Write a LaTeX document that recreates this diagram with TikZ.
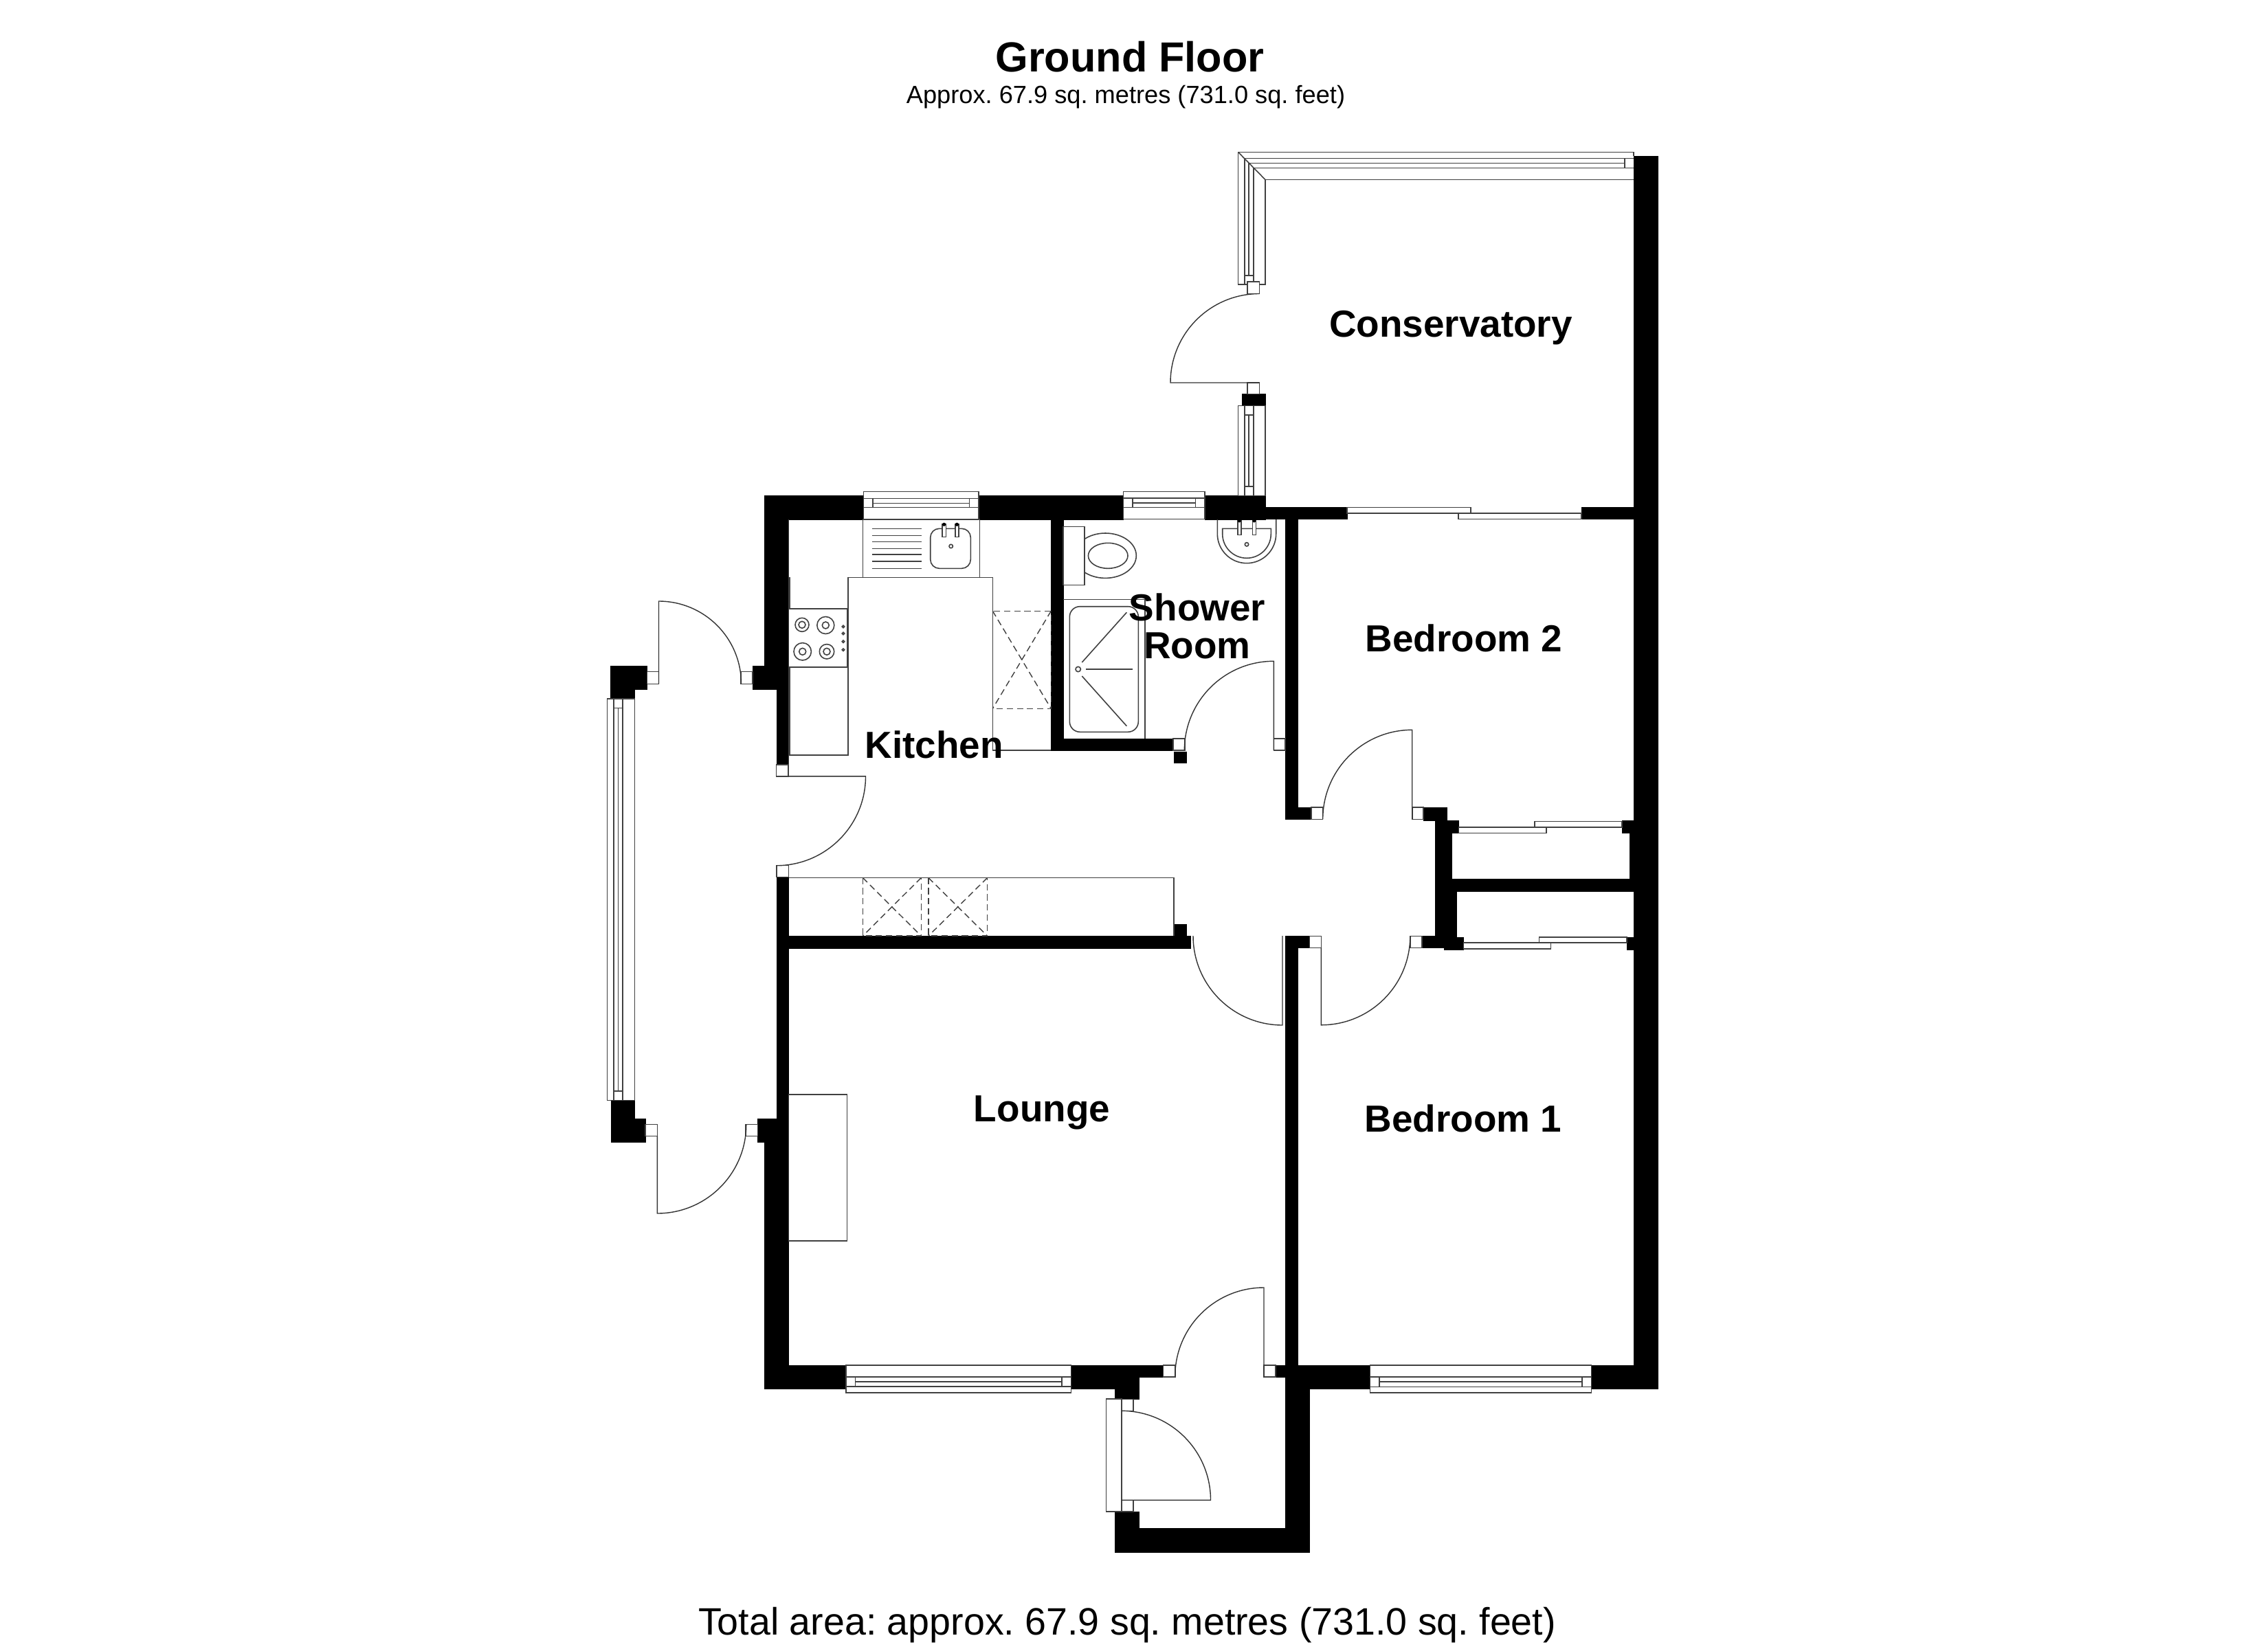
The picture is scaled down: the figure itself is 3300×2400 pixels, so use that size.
\documentclass[tikz,border=0pt]{standalone}
\usepackage{fontspec}
\setmainfont{Liberation Sans}
\frenchspacing
\tikzset{
    wall/.style={fill=black,draw=black,line width=0.1pt},
    fitting/.style={draw=black!75,line width=0.45pt},
    jamb/.style={draw=black!75,fill=white,line width=0.45pt},
    doorleaf/.style={draw=black!80,line width=0.4pt},
    hidden/.style={draw=black!75,line width=0.4pt,dash pattern=on 2.6pt off 1.6pt},
    roomlabel/.style={inner sep=0pt,anchor=base,font=\bfseries\fontsize{15.6pt}{15.7pt}\selectfont}
}
% window in a horizontal wall: x from, x to, then the five lines
\newcommand{\windowh}[7]{
    \fill[white] (#1,#3) rectangle (#2,#7);
    \draw[fitting] (#1,#3) rectangle (#2,#7);
    \draw[fitting] (#1,#4) -- (#2,#4);
    \draw[fitting] (#1,#6) -- (#2,#6);
    \draw[fitting] (#1+13.5,#4) -- (#1+13.5,#6);
    \draw[fitting] (#2-13.5,#4) -- (#2-13.5,#6);
    \draw[fitting] (#1+13.5,#5) -- (#2-13.5,#5);
}
% window in a vertical wall: y from, y to, then the five lines
\newcommand{\windowv}[7]{
    \fill[white] (#3,#1) rectangle (#7,#2);
    \draw[fitting] (#3,#1) rectangle (#7,#2);
    \draw[fitting] (#4,#1) -- (#4,#2);
    \draw[fitting] (#6,#1) -- (#6,#2);
    \draw[fitting] (#4,#1+13.5) -- (#6,#1+13.5);
    \draw[fitting] (#4,#2-13.5) -- (#6,#2-13.5);
    \draw[fitting] (#5,#1+13.5) -- (#5,#2-13.5);
}
\begin{document}
\begin{tikzpicture}[x=0.01cm,y=-0.01cm]
    \useasboundingbox (0,0) rectangle (3300,2400);
    \fill[white] (0,0) rectangle (3300,2400);
    % titles
    \node[inner sep=0pt,font=\bfseries\fontsize{17.4pt}{20pt}\selectfont] (title) at (1644,83) {Ground Floor};
    \node[inner sep=0pt,font=\fontsize{10.3pt}{12pt}\selectfont] (subtitle) at (1638,141) {Approx. 67.9 sq. metres (731.0 sq. feet)};
    \node[inner sep=0pt,font=\fontsize{15.8pt}{18pt}\selectfont] (total) at (1640,2365) {Total area: approx. 67.9 sq. metres (731.0 sq. feet)};
    % outer and inner walls
    \fill[wall] (2377,227.5) rectangle (2412,2021);
    \fill[wall] (1112.5,721.5) rectangle (1256.4,756);
    \fill[wall] (1424,721.5) rectangle (1634.5,756);
    \fill[wall] (1753,721.5) rectangle (1841,756);
    \fill[wall] (1841,738.4) rectangle (1960,755.6);
    \fill[wall] (2301,738.4) rectangle (2377,755.6);
    \fill[wall] (1807,573.4) rectangle (1841,590);
    \fill[wall] (1112.5,721.5) rectangle (1147.3,1003.6);
    \fill[wall] (1130,1003.6) rectangle (1147.3,1113);
    \fill[wall] (1095,969.4) rectangle (1112.5,1003.6);
    \fill[wall] (888.6,969.4) rectangle (941.6,1003.6);
    \fill[wall] (888.6,1003.6) rectangle (923.3,1016.9);
    \fill[wall] (1529.3,756) rectangle (1546.7,1092);
    \fill[wall] (1529.3,1075) rectangle (1707,1092);
    \fill[wall] (1708,1094) rectangle (1725.7,1109.7);
    \fill[wall] (1870,755.6) rectangle (1887.8,1192.3);
    \fill[wall] (1870,1175) rectangle (1908,1192.3);
    % closets
    \fill[wall] (2071.2,1175) rectangle (2105.3,1194);
    \fill[wall] (2087.7,1194) rectangle (2122.5,1212.3);
    \fill[wall] (2087.7,1212.3) rectangle (2112.5,1279);
    \fill[wall] (2087.7,1279) rectangle (2377,1296.7);
    \fill[wall] (2087.7,1296.7) rectangle (2118.7,1364.3);
    \fill[wall] (2069,1362.3) rectangle (2101,1379.3);
    \fill[wall] (2101,1364.3) rectangle (2129.4,1382);
    \fill[wall] (2360,1194) rectangle (2377,1212.3);
    \fill[wall] (2370.8,1212.3) rectangle (2377,1279);
    \fill[wall] (2367,1364) rectangle (2377,1382);
    % hall and lounge
    \fill[wall] (1147.6,1362) rectangle (1732.4,1379.7);
    \fill[wall] (1708,1345) rectangle (1726,1362);
    \fill[wall] (1129.8,1276.4) rectangle (1147.6,1627.7);
    \fill[wall] (1102.3,1627.7) rectangle (1147.6,1662);
    \fill[wall] (1112.5,1662) rectangle (1147.6,2021);
    \fill[wall] (888.7,1601.3) rectangle (923,1627.7);
    \fill[wall] (888.7,1627.7) rectangle (939,1662);
    \fill[wall] (1112.5,1986.7) rectangle (1231,2021);
    \fill[wall] (1558.6,1986.7) rectangle (1692.6,2004);
    \fill[wall] (1558.6,2004) rectangle (1657.6,2021);
    \fill[wall] (1622.6,2021) rectangle (1657.6,2036);
    \fill[wall] (1870,1362.3) rectangle (1905.5,1379.3);
    \fill[wall] (1870,1379.3) rectangle (1887.8,1986.7);
    \fill[wall] (1856.2,1986.7) rectangle (1993.4,2004);
    \fill[wall] (1870,2004) rectangle (1993.4,2021);
    \fill[wall] (1870,2021) rectangle (1905,2258.7);
    \fill[wall] (2315.5,1986.7) rectangle (2377,2021);
    \fill[wall] (1622.6,2223.7) rectangle (1905,2258.7);
    \fill[wall] (1622.6,2200) rectangle (1657.6,2223.7);
    % windows
    \windowh{1256.4}{1424}{715.7}{725.3}{732.5}{738.3}{756}
    \windowh{1634.5}{1753}{715.4}{725}{732}{738.4}{755.6}
    \windowh{1231}{1558.6}{1986.7}{2004}{2010.7}{2017.7}{2026.7}
    \windowh{1993.4}{2315.5}{1986.7}{2004}{2010.7}{2018.3}{2026.7}
    \windowv{590.6}{721.5}{1801.5}{1810.7}{1817}{1824}{1841}
    \windowv{1016.9}{1601.3}{883.5}{892.7}{899.3}{906}{923.3}
    % conservatory frame
    \draw[fitting] (2377,221.3) -- (1801.5,221.3) -- (1801.5,414) -- (1841,414) -- (1841,261.5) -- (2377,261.5);
    \draw[fitting] (1801.5,221.3) -- (1841,261.5);
    \draw[fitting] (2377,221.3) -- (2377,227.5);
    \draw[fitting] (1810.7,230.5) -- (2377,230.5);
    \draw[fitting] (1824,244.3) -- (2377,244.3);
    \draw[fitting] (1817,237.4) -- (2364,237.4);
    \draw[fitting] (2364,230.5) -- (2364,244.3);
    \draw[fitting] (1810.7,230.5) -- (1810.7,414);
    \draw[fitting] (1824,244.3) -- (1824,414);
    \draw[fitting] (1817,237.4) -- (1817,401);
    \draw[fitting] (1810.7,401) -- (1824,401);
    % sliding doors
    \draw[jamb] (1960,738.4) rectangle (2140,746.8);
    \draw[jamb] (2122,746.8) rectangle (2301,755.6);
    \draw[jamb] (2232.7,1195.3) rectangle (2360,1204);
    \draw[jamb] (2122.5,1204) rectangle (2250,1212.3);
    \draw[jamb] (2239.6,1363.7) rectangle (2367,1372);
    \draw[jamb] (2129.4,1372) rectangle (2256.4,1381);
    % door jambs
    \draw[jamb] (1815,410) rectangle (1832.5,427.6);
    \draw[jamb] (1815,557) rectangle (1832.5,573.4);
    \draw[jamb] (941.6,977.5) rectangle (958.5,995.4);
    \draw[jamb] (1078,977.5) rectangle (1095,995.4);
    \draw[jamb] (1129.4,1113) rectangle (1147.2,1129.8);
    \draw[jamb] (1129.8,1259.5) rectangle (1147.6,1276.4);
    \draw[jamb] (939,1636.5) rectangle (956.3,1653.4);
    \draw[jamb] (1085,1636.5) rectangle (1102.3,1653.4);
    \draw[jamb] (1707,1075) rectangle (1723.7,1092);
    \draw[jamb] (1853.3,1075) rectangle (1870,1092);
    \draw[jamb] (1908,1175) rectangle (1924.6,1192.3);
    \draw[jamb] (2054.7,1175) rectangle (2071.2,1192.3);
    \draw[jamb] (1905.5,1362.3) rectangle (1922.3,1379.3);
    \draw[jamb] (2051.7,1362.3) rectangle (2069,1379.3);
    \draw[jamb] (1692.6,1986.7) rectangle (1709.8,2004);
    \draw[jamb] (1839,1986.7) rectangle (1856.2,2004);
    \draw[jamb] (1609.4,2035.7) rectangle (1631.8,2200);
    \draw[jamb] (1631.8,2036.3) rectangle (1649,2053.3);
    \draw[jamb] (1631.8,2183.3) rectangle (1649,2200);
    % door swings
    \draw[doorleaf] (1832.5,557) -- (1703,557) arc (180:270:129.5);
    \draw[doorleaf] (958.5,995.4) -- (958.5,875) arc (-90:0:120);
    \draw[doorleaf] (956.3,1653.4) -- (956.3,1766) arc (90:0:129.5);
    \draw[doorleaf] (1147,1129.8) -- (1259.5,1129.8) arc (0:90:130);
    \draw[doorleaf] (1853.3,1092) -- (1853.3,962.3) arc (-90:-180:130);
    \draw[doorleaf] (2054.7,1192.3) -- (2054.7,1062.3) arc (-90:-180:130);
    \draw[doorleaf] (1922.3,1379.3) -- (1922.3,1491.8) arc (90:0:129.5);
    \draw[doorleaf] (1866,1362) -- (1866,1492) arc (90:180:130);
    \draw[doorleaf] (1839,2004) -- (1839,1874) arc (-90:-180:129.3);
    \draw[doorleaf] (1631.8,2183.3) -- (1761.5,2183.3) arc (0:-90:130);
    % kitchen units
    \draw[fitting] (1147.6,840.7) -- (1148.7,840.7) -- (1148.7,1098.7) -- (1233.7,1098.7) -- (1233.7,840.7) -- (1444.3,840.7) -- (1444.3,1092) -- (1529.3,1092);
    \draw[fitting] (1147.3,756) -- (1147.3,1113);
    \draw[fitting] (1255.3,756) rectangle (1425.3,840.7);
    \foreach \ydrain in {769.3,779.7,788.3,798.3,807,817,827.3}
        \draw[fitting] (1268.7,\ydrain) -- (1340.7,\ydrain);
    \draw[fitting,rounded corners=13*0.2845pt] (1353.7,769.3) rectangle (1412.3,827.3);
    \foreach \xtap in {1371,1389.7}{
        \draw[fitting,fill=white] (\xtap,763) rectangle (\xtap+5.3,781.3);
        \fill[black] (\xtap+2.6,763.3) circle (2.6);
    }
    \draw[fitting] (1383.7,795) circle (2.7);
    % hob
    \draw[fitting,fill=white] (1147.3,885.7) rectangle (1232.3,971);
    \foreach \xring/\yring/\rring in {1167/909.3/10,1201.3/910/12.5,1167.7/948.3/12.7,1203/948.3/10.7}{
        \draw[fitting] (\xring,\yring) circle (\rring);
        \draw[fitting] (\xring,\yring) circle (5);
    }
    \foreach \yknob in {912,922,933.7,945.7}
        \draw[fitting] (1227,\yknob) circle (1.7);
    % dashed appliances
    \draw[hidden] (1444.3,889.3) rectangle (1529.3,1031.3);
    \draw[hidden] (1444.3,889.3) -- (1529.3,1031.3);
    \draw[hidden] (1529.3,889.3) -- (1444.3,1031.3);
    \draw[hidden] (1255.4,1277.6) rectangle (1340.2,1362.1);
    \draw[hidden] (1255.4,1277.6) -- (1340.2,1362.1);
    \draw[hidden] (1340.2,1277.6) -- (1255.4,1362.1);
    \draw[hidden] (1351,1277.6) rectangle (1436.5,1362.1);
    \draw[hidden] (1351,1277.6) -- (1436.5,1362.1);
    \draw[hidden] (1436.5,1277.6) -- (1351,1362.1);
    % hall unit and fireplace
    \draw[fitting] (1147.6,1277.6) -- (1708.2,1277.6) -- (1708.2,1362);
    \draw[fitting] (1147.6,1593) rectangle (1232.4,1805.7);
    % toilet
    \begin{scope}
        \clip (1578,760) rectangle (1670,860);
        \draw[fitting] (1608.3,808.7) ellipse (45 and 32.7);
    \end{scope}
    \draw[fitting] (1612.2,808.8) ellipse (28.8 and 18.5);
    \draw[fitting] (1546.7,766.3) rectangle (1578,851.3);
    % shower tray
    \draw[fitting] (1546.7,872.3) -- (1666,872.3) -- (1666,1075);
    \draw[fitting,rounded corners=15*0.2845pt] (1556.3,882.7) rectangle (1656.3,1065.3);
    \draw[fitting] (1568.7,974) circle (3.7);
    \draw[fitting] (1580.3,974) -- (1648,974);
    \draw[fitting] (1574.3,964) -- (1639.3,891.3);
    \draw[fitting] (1574.3,984) -- (1639.3,1056.7);
    % wash basin
    \draw[fitting] (1771.3,756) -- (1771.3,777) arc (180:0:42.7) -- (1856.7,756);
    \draw[fitting] (1778.7,769.3) -- (1849.3,769.3) -- (1849.3,777) arc (0:180:35.3) -- cycle;
    \foreach \xtap in {1800.7,1822.3}{
        \draw[fitting,fill=white] (\xtap,757.7) rectangle (\xtap+5,778.3);
        \fill[black] (\xtap+2.5,758) circle (2.5);
    }
    \draw[fitting] (1814,792.3) circle (2.7);
    % room names
    \node[roomlabel] (conservatory) at (2111,490) {Conservatory};
    \node[roomlabel] (kitchen) at (1359.3,1103.3) {Kitchen};
    \node[roomlabel,align=center,anchor=center] (shower) at (1742,911.5) {Shower\\Room};
    \node[roomlabel] (bedroomtwo) at (2130,948) {Bedroom 2};
    \node[roomlabel] (bedroomone) at (2129,1647) {Bedroom 1};
    \node[roomlabel] (lounge) at (1516,1632.7) {Lounge};
\end{tikzpicture}
\end{document}
